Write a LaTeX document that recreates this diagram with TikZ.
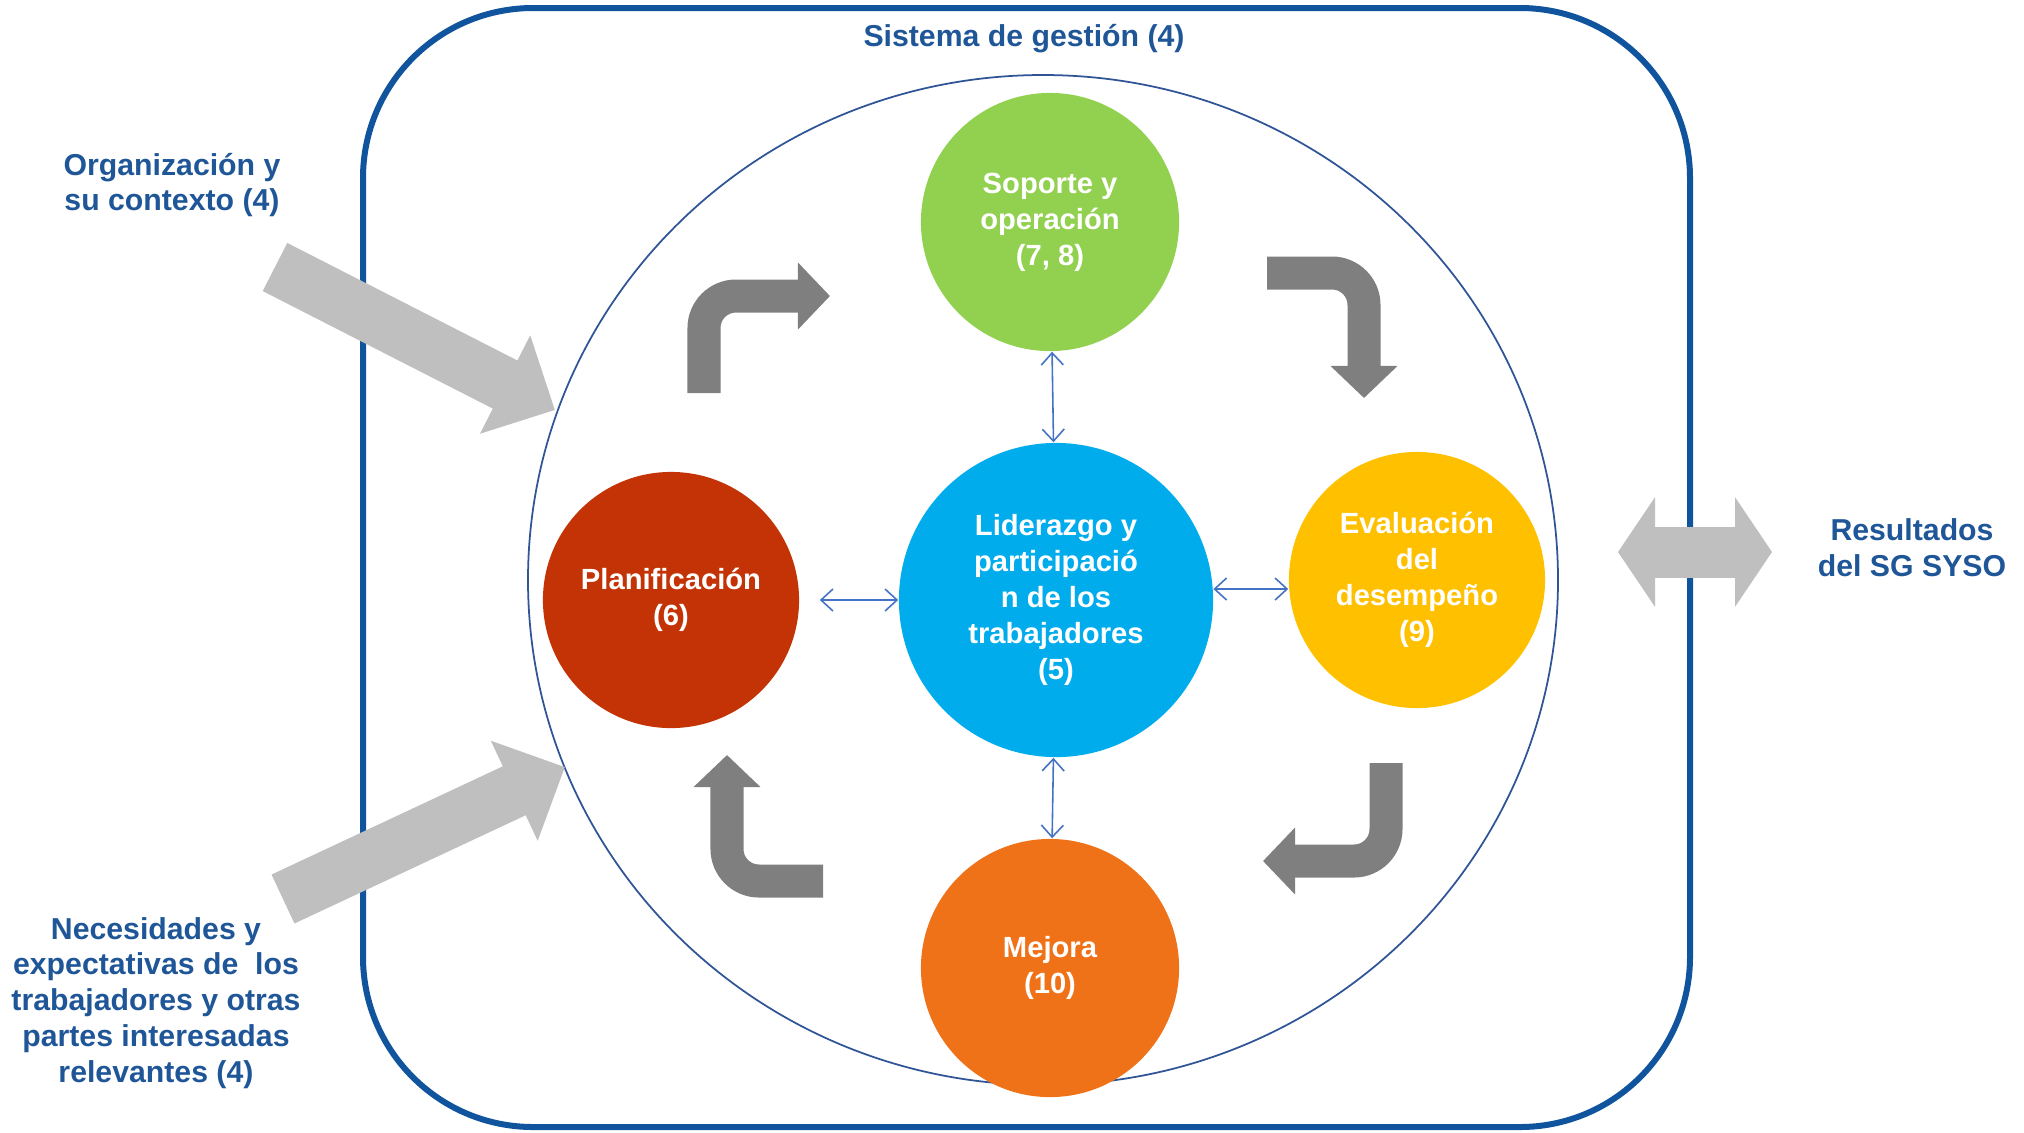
\documentclass[tikz,border=0pt]{standalone}
\usepackage{fontspec}
\setmainfont{Liberation Sans}
\usetikzlibrary{arrows.meta}
\definecolor{marco}{RGB}{17,84,158}
\definecolor{azultexto}{RGB}{31,86,152}
\definecolor{anillo}{RGB}{47,85,151}
\definecolor{enlaceazul}{RGB}{68,114,196}
\definecolor{verde}{RGB}{146,208,80}
\definecolor{celeste}{RGB}{0,172,236}
\definecolor{rojo}{RGB}{196,51,6}
\definecolor{amarillo}{RGB}{255,192,0}
\definecolor{naranja}{RGB}{240,114,24}
\definecolor{grisoscuro}{RGB}{127,127,127}
\definecolor{grisclaro}{RGB}{191,191,191}

\begin{document}
\begin{tikzpicture}[x=0.01cm, y=-0.01cm,
  etapa/.style={circle, fill=#1, text=white, align=center, inner sep=0pt,
    font=\fontsize{8.3}{10.2}\selectfont\bfseries},
  rotulo/.style={text=azultexto, align=center, font=\fontsize{8.6}{10.2}\selectfont\bfseries},
  enlace/.style={draw=enlaceazul, line width=0.45pt,
    {Straight Barb[length=0.12cm,width=0.22cm]}-{Straight Barb[length=0.12cm,width=0.22cm]}},
  giro/.style={draw=grisoscuro, line width=0.33cm, rounded corners=0.32cm,
    -{Triangle[length=0.32cm,width=0.65cm]}},
  entrada/.style={draw=grisclaro, line width=0.54cm, -{Triangle[length=0.56cm,width=1.07cm]}}]
  \useasboundingbox (0,0) rectangle (2024,1132);

  % marco del sistema
  \draw[marco, line width=0.06cm, rounded corners=1.7cm] (363,8) rectangle (1690,1127);
  \node[rotulo] (sistema) at (1024,39) {Sistema de gestión (4)};
  \draw[anillo, line width=0.5pt] (1043,580) ellipse [x radius=515, y radius=505];

  % entradas y salidas
  \draw[entrada] (275,267) -- (555,410);
  \draw[entrada] (283,899) -- (565,767);
  \draw[draw=grisclaro, line width=0.51cm,
    {Triangle[length=0.37cm,width=1.08cm]}-{Triangle[length=0.37cm,width=1.08cm]}] (1618,552) -- (1772,552);
  \node[rotulo] (contexto) at (172,185) {Organización y\\su contexto (4)};
  \node[rotulo] (partes) at (156,1003) {Necesidades y\\expectativas de \ los\\trabajadores y otras\\partes interesadas\\relevantes (4)};
  \node[rotulo] (resultados) at (1912,548) {Resultados\\del SG SYSO};

  % etapas
  \node[etapa=verde, minimum size=2.58cm] (soporte) at (1050,222) {Soporte y\\operación\\(7, 8)};
  \node[etapa=celeste, minimum size=3.14cm] (liderazgo) at (1056,600) {Liderazgo y\\participació\\n de los\\trabajadores\\(5)};
  \node[etapa=rojo, minimum size=2.56cm] (planificacion) at (671,600) {Planificación\\(6)};
  \node[etapa=amarillo, minimum size=2.56cm] (evaluacion) at (1417,580) {Evaluación\\del\\desempeño\\(9)};
  \node[etapa=naranja, minimum size=2.58cm] (mejora) at (1050,968) {Mejora\\(10)};

  \draw[enlace] (soporte) -- (liderazgo);
  \draw[enlace] (liderazgo) -- (mejora);
  \draw[enlace, shorten <=0.2cm] (planificacion) -- (liderazgo);
  \draw[enlace] (liderazgo.4) -- (liderazgo.4 -| evaluacion.west);

  % ciclo
  \draw[giro] (704,393) -- (704,296) -- (830,296);
  \draw[giro] (1267,273) -- (1364,273) -- (1364,398);
  \draw[giro] (1386,763) -- (1386,861) -- (1263,861);
  \draw[giro] (823,881) -- (727,881) -- (727,755);
\end{tikzpicture}
\end{document}
